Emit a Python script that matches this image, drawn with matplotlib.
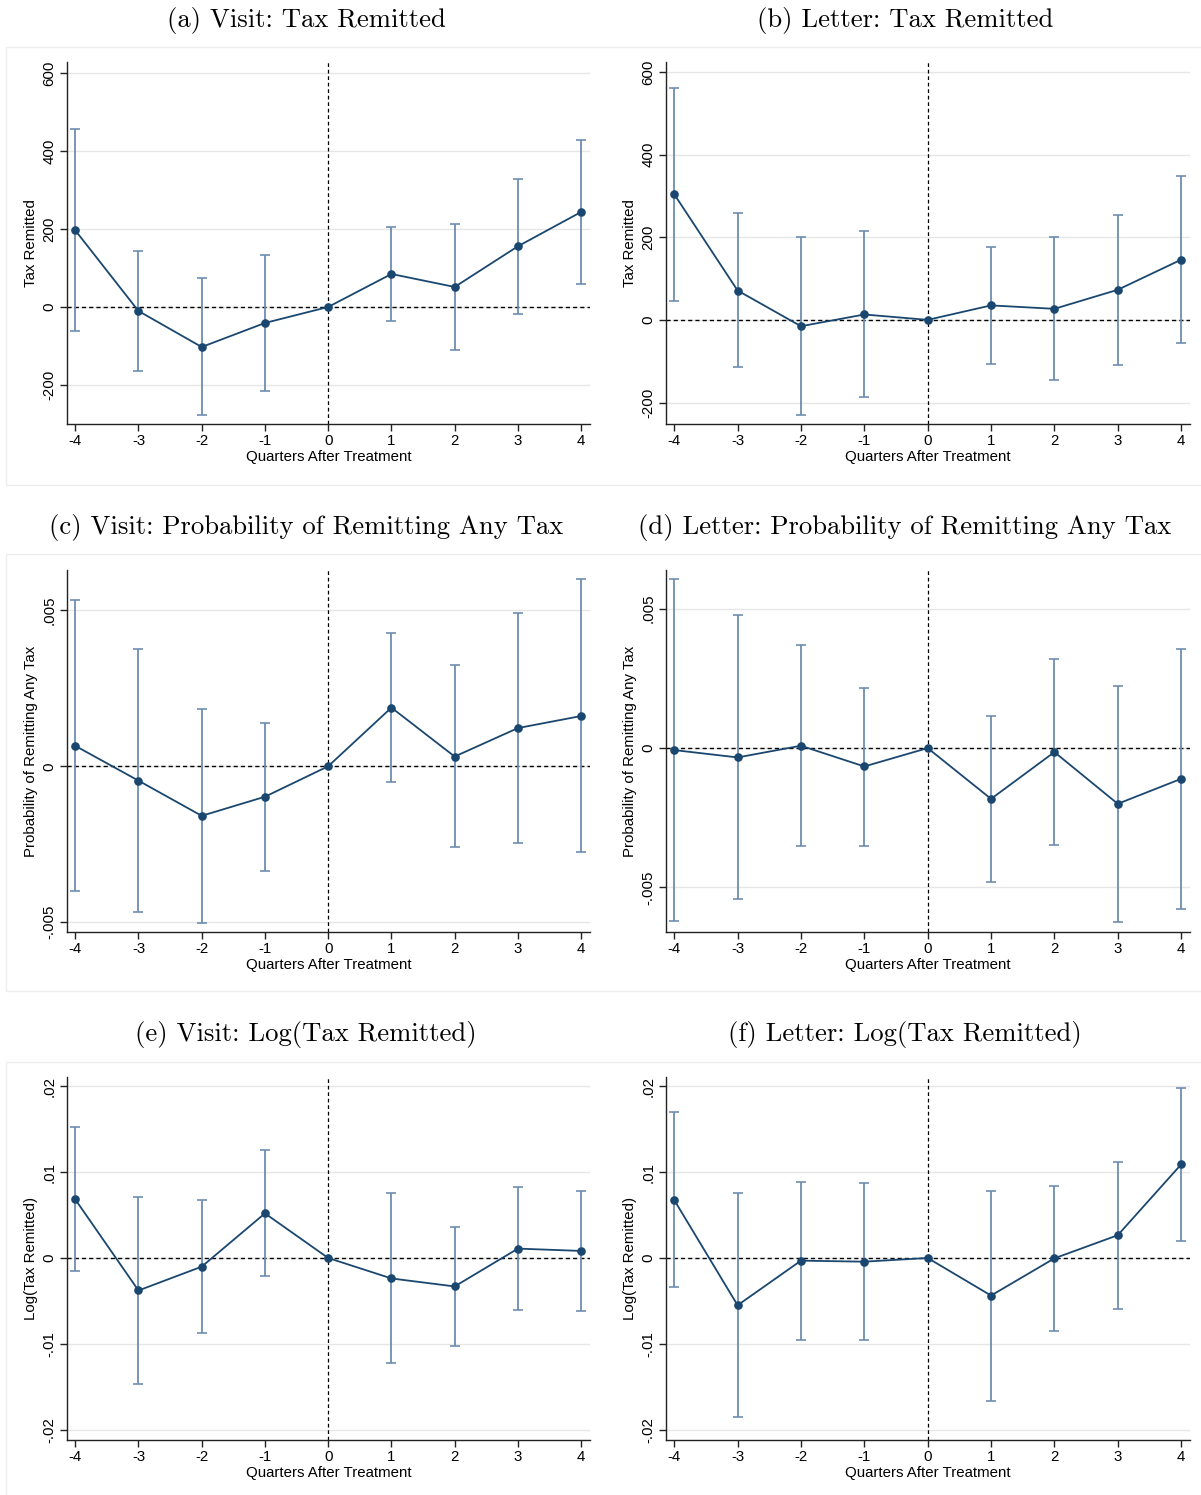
import numpy as np
import matplotlib
matplotlib.use("Agg")
import matplotlib.pyplot as plt
from matplotlib.ticker import FixedLocator, FixedFormatter
from matplotlib.patches import Rectangle

plt.rcParams['font.family'] = ['Liberation Sans', 'DejaVu Sans']
plt.rcParams['axes.unicode_minus'] = False

quarters = [-4, -3, -2, -1, 0, 1, 2, 3, 4]
xtick_labels = ["-4", "-3", "-2", "-1", "0", "1", "2", "3", "4"]

# (a) Visit: Tax Remitted
a_est = [196.6, -10.3, -102.6, -41.0, 0.0, 84.6, 51.3, 155.6, 243.6]
a_hi = [455.6, 144.4, 74.4, 134.0, np.nan, 206.0, 212.8, 329.0, 428.0]
a_lo = [-61.5, -164.0, -277.8, -214.5, np.nan, -35.0, -109.4, -17.0, 58.0]
# (b) Letter: Tax Remitted
b_est = [304.0, 71.0, -15.4, 13.0, 0.0, 35.0, 26.7, 72.8, 145.6]
b_hi = [562.0, 259.0, 200.0, 214.0, np.nan, 177.0, 200.6, 254.8, 347.8]
b_lo = [46.0, -115.0, -230.5, -187.0, np.nan, -107.0, -146.0, -108.4, -55.8]
# (c) Visit: Probability of Remitting Any Tax
c_est = [0.000656, -0.000462, -0.001591, -0.000978, 0.0, 0.001882, 0.000312, 0.001226, 0.001613]
c_hi = [0.005344, 0.003763, 0.001839, 0.001398, np.nan, 0.004269, 0.003247, 0.004935, 0.006000]
c_lo = [-0.004000, -0.004677, -0.005043, -0.003355, np.nan, -0.000505, -0.002602, -0.002473, -0.002763]
# (d) Letter: Probability of Remitting Any Tax
d_est = [-0.000072, -0.000336, 0.000084, -0.000660, 0.0, -0.001823, -0.000144, -0.002000, -0.001103]
d_hi = [0.006055, 0.004760, 0.003705, 0.002170, np.nan, 0.001139, 0.003190, 0.002218, 0.003549]
d_lo = [-0.006200, -0.005420, -0.003525, -0.003500, np.nan, -0.004800, -0.003477, -0.006247, -0.005767]
# (e) Visit: Log(Tax Remitted)
e_est = [0.00682, -0.00378, -0.00101, 0.00519, 0.0, -0.00238, -0.00331, 0.00109, 0.00082]
e_hi = [0.01524, 0.00706, 0.00671, 0.01255, np.nan, 0.00756, 0.00363, 0.00830, 0.00784]
e_lo = [-0.00156, -0.01466, -0.00873, -0.00210, np.nan, -0.01224, -0.01021, -0.00608, -0.00620]
# (f) Letter: Log(Tax Remitted)
f_est = [0.00674, -0.00550, -0.00031, -0.00043, 0.0, -0.00437, -0.00004, 0.00265, 0.01088]
f_hi = [0.01696, 0.00752, 0.00889, 0.00873, np.nan, 0.00784, 0.00834, 0.01115, 0.01980]
f_lo = [-0.00343, -0.01848, -0.00951, -0.00955, np.nan, -0.01661, -0.00846, -0.00589, 0.00195]

titles = ["(a) Visit: Tax Remitted", "(b) Letter: Tax Remitted",
          "(c) Visit: Probability of Remitting Any Tax", "(d) Letter: Probability of Remitting Any Tax",
          "(e) Visit: Log(Tax Remitted)", "(f) Letter: Log(Tax Remitted)"]
ylabels = ["Tax Remitted", "Tax Remitted",
           "Probability of Remitting Any Tax", "Probability of Remitting Any Tax",
           "Log(Tax Remitted)", "Log(Tax Remitted)"]
xlabel = "Quarters After Treatment"

tax_ticks = [-200, 0, 200, 400, 600]
tax_tick_labels = ["-200", "0", "200", "400", "600"]
prob_ticks = [-0.005, 0, 0.005]
prob_tick_labels = ["-.005", "0", ".005"]
log_ticks = [-0.02, -0.01, 0, 0.01, 0.02]
log_tick_labels = ["-.02", "-.01", "0", ".01", ".02"]

panels = [
    (a_est, a_lo, a_hi, tax_ticks, tax_tick_labels, (-300, 628)),
    (b_est, b_lo, b_hi, tax_ticks, tax_tick_labels, (-252, 624)),
    (c_est, c_lo, c_hi, prob_ticks, prob_tick_labels, (-0.00532, 0.00630)),
    (d_est, d_lo, d_hi, prob_ticks, prob_tick_labels, (-0.00660, 0.00639)),
    (e_est, e_lo, e_hi, log_ticks, log_tick_labels, (-0.02117, 0.02105)),
    (f_est, f_lo, f_hi, log_ticks, log_tick_labels, (-0.02117, 0.02105)),
]

W, H = 1201, 1495
fig = plt.figure(figsize=(W / 100, H / 100), dpi=100)
fig.patch.set_facecolor('white')

col_x = [(67, 590), (666, 1190)]
row_y = [(62, 424), (570, 932), (1077, 1440)]
title_y = [20, 528, 1035]
title_x = [306, 905]
region_y = [(47, 485), (554, 991), (1062, 1500)]

# faint graph-region frames
for (ry0, ry1) in region_y:
    fig.patches.append(Rectangle((6 / W, 1 - ry1 / H), (W + 10 - 6) / W, (ry1 - ry0) / H,
                                 transform=fig.transFigure, fill=False,
                                 edgecolor='#ededed', lw=1.0, zorder=0))

line_color = '#1a476f'
ci_color = '#6e8db0'

for i, (est, lo, hi, yt, ytl, ylim) in enumerate(panels):
    r, c = divmod(i, 2)
    x0, x1 = col_x[c]
    y0, y1 = row_y[r]
    ax = fig.add_axes([x0 / W, 1 - y1 / H, (x1 - x0) / W, (y1 - y0) / H])
    ax.set_xlim(-4.13, 4.14)
    ax.set_ylim(*ylim)

    est = np.array(est, dtype=float)
    lo = np.array(lo, dtype=float)
    hi = np.array(hi, dtype=float)
    xq = np.array(quarters, dtype=float)
    m = ~np.isnan(lo)

    for t in yt:
        ax.axhline(t, color='#e6e6e6', lw=1.0, zorder=0.5)
    ax.axhline(0, color='black', lw=1.0, ls=(0, (3, 2.2)), zorder=1)
    ax.axvline(0, color='black', lw=0.9, ls=(0, (3, 2.2)), zorder=1)

    ax.errorbar(xq[m], est[m], yerr=[est[m] - lo[m], hi[m] - est[m]], fmt='none',
                ecolor=ci_color, elinewidth=1.3, capsize=3.5, capthick=1.2, zorder=2)
    ax.plot(xq, est, color=line_color, lw=1.3, marker='o', markersize=5.2,
            markerfacecolor=line_color, markeredgecolor=line_color, zorder=3)

    ax.xaxis.set_major_locator(FixedLocator(quarters))
    ax.xaxis.set_major_formatter(FixedFormatter(xtick_labels))
    ax.yaxis.set_major_locator(FixedLocator(yt))
    ax.yaxis.set_major_formatter(FixedFormatter(ytl))

    for s in ['top', 'right']:
        ax.spines[s].set_visible(False)
    for s in ['left', 'bottom']:
        ax.spines[s].set_color('#222222')
        ax.spines[s].set_linewidth(1.0)

    ax.tick_params(axis='both', direction='out', length=5, width=1.0, color='#222222',
                   labelsize=10.8, labelcolor='black', pad=2.5)
    ax.tick_params(axis='y', labelrotation=90)
    for lab in ax.get_yticklabels():
        lab.set_va('center')

    ax.set_xlabel(xlabel, fontsize=10.8, labelpad=1.5)
    ax.set_ylabel(ylabels[i], fontsize=10.8, labelpad=3)

    fig.text(title_x[c] / W, 1 - title_y[r] / H, titles[i], family='cmr10',
             fontsize=19.2, ha='center', va='center')

fig.savefig('out.png', dpi=100, facecolor='white')
